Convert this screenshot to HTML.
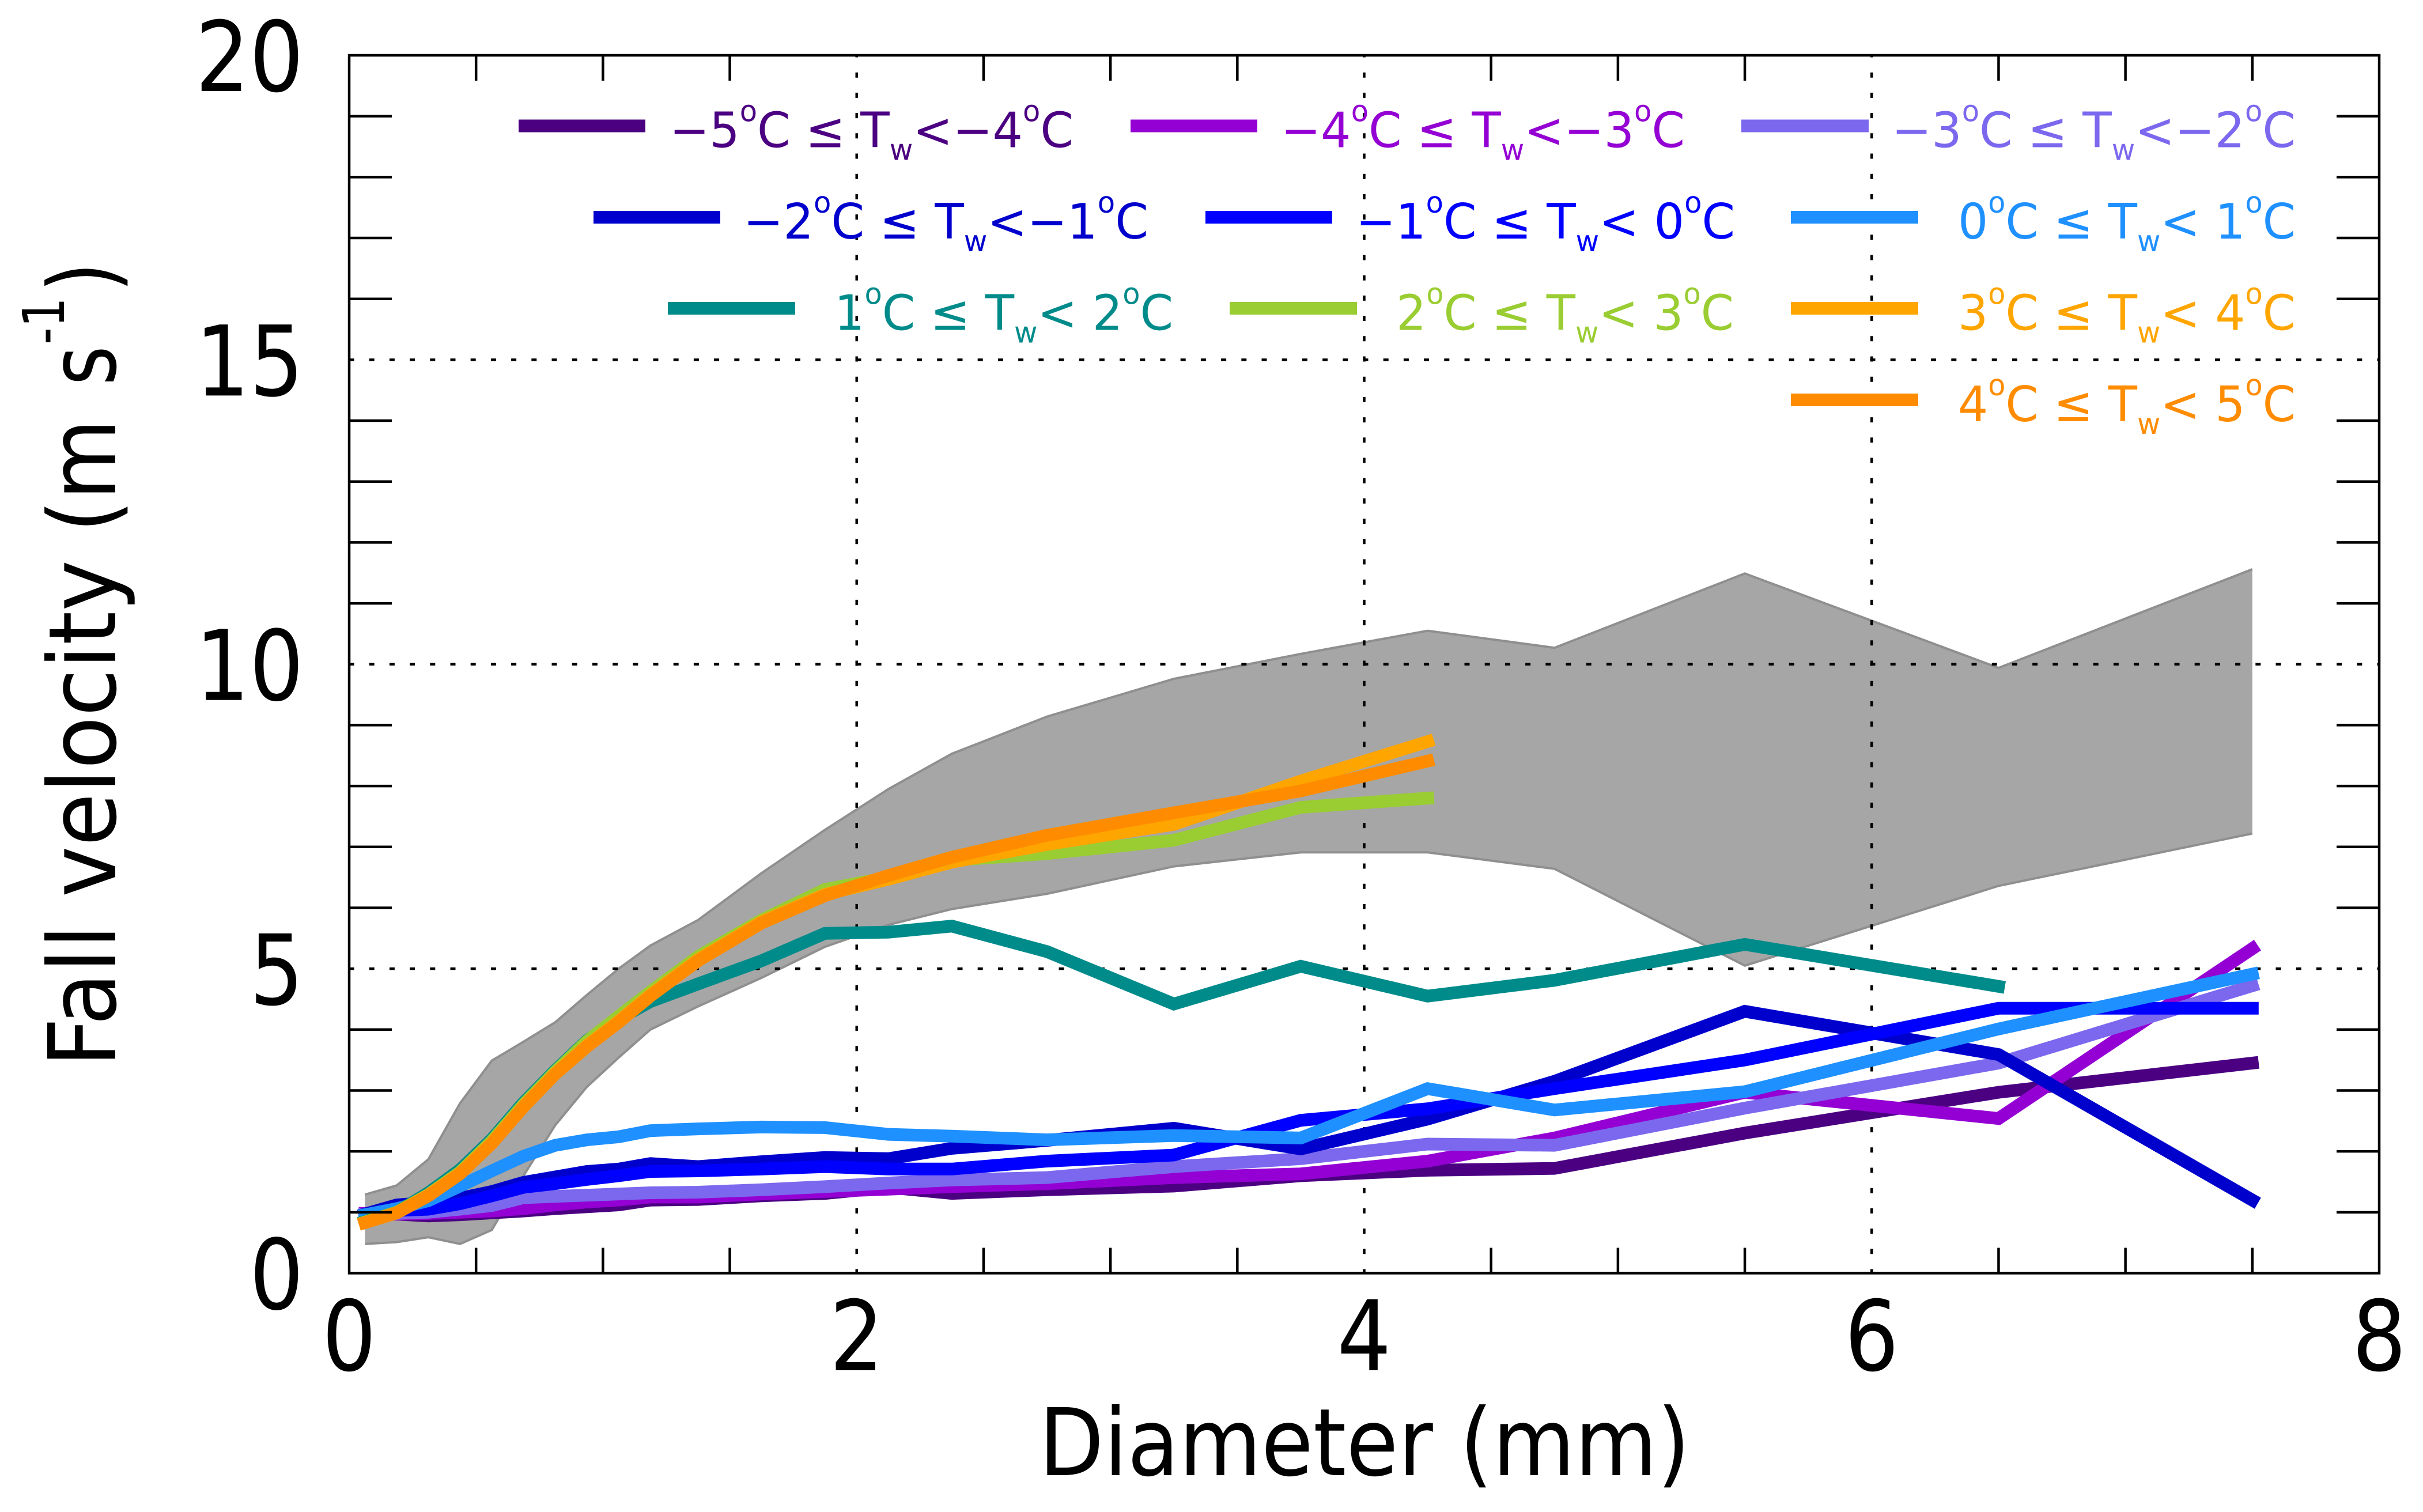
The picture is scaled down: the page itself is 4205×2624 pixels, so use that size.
<!DOCTYPE html>
<html lang="en">
<head>
<meta charset="utf-8">
<title>Fall velocity versus diameter</title>
<style>
html,body{margin:0;padding:0;background:#fff;}
svg{display:block;}
text{font-family:"DejaVu Sans","Liberation Sans",sans-serif;}
.leg{font-size:85px;}
.sm{font-size:51px;}
</style>
</head>
<body>
<svg id="chart" xmlns="http://www.w3.org/2000/svg" width="4205" height="2624" viewBox="0 0 4205 2624">
  <rect x="0" y="0" width="4205" height="2624" fill="#ffffff"/>
  <g id="band-layer"></g>
  <g id="grid-layer"></g>
  <g id="series-layer"></g>
  <g id="tick-layer"></g>
  <rect x="606" y="96" width="3523" height="2113.5" fill="none" stroke="#000" stroke-width="4.5"/>
  <g id="label-layer"></g>

  <text x="1803" y="2560" font-size="162" textLength="1130" lengthAdjust="spacingAndGlyphs">Diameter (mm)</text>
  <g transform="rotate(-90)">
    <text x="-1852" y="200" font-size="162" textLength="880" lengthAdjust="spacingAndGlyphs">Fall velocity</text>
    <text x="-924" y="200" font-size="162" textLength="197" lengthAdjust="spacingAndGlyphs">(m</text>
    <text x="-669" y="200" font-size="162" textLength="69" lengthAdjust="spacingAndGlyphs">s</text>
    <text x="-598" y="111" font-size="100" textLength="82" lengthAdjust="spacingAndGlyphs">-1</text>
    <text x="-507" y="200" font-size="162" textLength="52" lengthAdjust="spacingAndGlyphs">)</text>
  </g>

  <g>
    <line x1="900" x2="1120" y1="218.5" y2="218.5" stroke="#4B0082" stroke-width="22"/>
    <text class="leg" x="1162" y="255.5" fill="#4B0082" textLength="701" lengthAdjust="spacingAndGlyphs">−5<tspan class="sm" dy="-45">o</tspan><tspan dy="45">C ≤ T</tspan><tspan class="sm" dy="22">w</tspan><tspan dy="-22">&lt;−4</tspan><tspan class="sm" dy="-45">o</tspan><tspan dy="45">C</tspan></text>
    <line x1="1962" x2="2182" y1="218.5" y2="218.5" stroke="#9400D3" stroke-width="22"/>
    <text class="leg" x="2223" y="255.5" fill="#9400D3" textLength="701" lengthAdjust="spacingAndGlyphs">−4<tspan class="sm" dy="-45">o</tspan><tspan dy="45">C ≤ T</tspan><tspan class="sm" dy="22">w</tspan><tspan dy="-22">&lt;−3</tspan><tspan class="sm" dy="-45">o</tspan><tspan dy="45">C</tspan></text>
    <line x1="3022" x2="3243" y1="218.5" y2="218.5" stroke="#7B68EE" stroke-width="22"/>
    <text class="leg" x="3283" y="255.5" fill="#7B68EE" textLength="701" lengthAdjust="spacingAndGlyphs">−3<tspan class="sm" dy="-45">o</tspan><tspan dy="45">C ≤ T</tspan><tspan class="sm" dy="22">w</tspan><tspan dy="-22">&lt;−2</tspan><tspan class="sm" dy="-45">o</tspan><tspan dy="45">C</tspan></text>

    <line x1="1030" x2="1250" y1="377" y2="377" stroke="#0000CD" stroke-width="22"/>
    <text class="leg" x="1290" y="414" fill="#0000CD" textLength="703" lengthAdjust="spacingAndGlyphs">−2<tspan class="sm" dy="-45">o</tspan><tspan dy="45">C ≤ T</tspan><tspan class="sm" dy="22">w</tspan><tspan dy="-22">&lt;−1</tspan><tspan class="sm" dy="-45">o</tspan><tspan dy="45">C</tspan></text>
    <line x1="2092" x2="2312" y1="377" y2="377" stroke="#0000FF" stroke-width="22"/>
    <text class="leg" x="2353" y="414" fill="#0000FF" textLength="658" lengthAdjust="spacingAndGlyphs">−1<tspan class="sm" dy="-45">o</tspan><tspan dy="45">C ≤ T</tspan><tspan class="sm" dy="22">w</tspan><tspan dy="-22">&lt; 0</tspan><tspan class="sm" dy="-45">o</tspan><tspan dy="45">C</tspan></text>
    <line x1="3108" x2="3329" y1="377" y2="377" stroke="#1E90FF" stroke-width="22"/>
    <text class="leg" x="3398" y="414" fill="#1E90FF" textLength="586" lengthAdjust="spacingAndGlyphs">0<tspan class="sm" dy="-45">o</tspan><tspan dy="45">C ≤ T</tspan><tspan class="sm" dy="22">w</tspan><tspan dy="-22">&lt; 1</tspan><tspan class="sm" dy="-45">o</tspan><tspan dy="45">C</tspan></text>

    <line x1="1159" x2="1380" y1="535" y2="535" stroke="#008B8B" stroke-width="22"/>
    <text class="leg" x="1448" y="572.5" fill="#008B8B" textLength="588" lengthAdjust="spacingAndGlyphs">1<tspan class="sm" dy="-45">o</tspan><tspan dy="45">C ≤ T</tspan><tspan class="sm" dy="22">w</tspan><tspan dy="-22">&lt; 2</tspan><tspan class="sm" dy="-45">o</tspan><tspan dy="45">C</tspan></text>
    <line x1="2134" x2="2355" y1="535" y2="535" stroke="#9ACD32" stroke-width="22"/>
    <text class="leg" x="2423" y="572.5" fill="#9ACD32" textLength="586" lengthAdjust="spacingAndGlyphs">2<tspan class="sm" dy="-45">o</tspan><tspan dy="45">C ≤ T</tspan><tspan class="sm" dy="22">w</tspan><tspan dy="-22">&lt; 3</tspan><tspan class="sm" dy="-45">o</tspan><tspan dy="45">C</tspan></text>
    <line x1="3108" x2="3329" y1="535" y2="535" stroke="#FFA500" stroke-width="22"/>
    <text class="leg" x="3398" y="572.5" fill="#FFA500" textLength="586" lengthAdjust="spacingAndGlyphs">3<tspan class="sm" dy="-45">o</tspan><tspan dy="45">C ≤ T</tspan><tspan class="sm" dy="22">w</tspan><tspan dy="-22">&lt; 4</tspan><tspan class="sm" dy="-45">o</tspan><tspan dy="45">C</tspan></text>

    <line x1="3108" x2="3329" y1="694" y2="694" stroke="#FF8C00" stroke-width="22"/>
    <text class="leg" x="3398" y="731" fill="#FF8C00" textLength="586" lengthAdjust="spacingAndGlyphs">4<tspan class="sm" dy="-45">o</tspan><tspan dy="45">C ≤ T</tspan><tspan class="sm" dy="22">w</tspan><tspan dy="-22">&lt; 5</tspan><tspan class="sm" dy="-45">o</tspan><tspan dy="45">C</tspan></text>
  </g>
</svg>
<script>
const diameters = [0.062,0.187,0.312,0.437,0.562,0.687,0.812,0.937,1.062,1.187,1.375,1.625,1.875,2.125,2.375,2.75,3.25,3.75,4.25,4.75,5.5,6.5,7.5];

const bandUpper = [1.29,1.44,1.87,2.79,3.49,3.80,4.12,4.57,5.00,5.38,5.80,6.57,7.28,7.95,8.53,9.14,9.76,10.17,10.55,10.27,11.49,9.94,11.56];
const bandLower = [0.48,0.51,0.59,0.48,0.71,1.60,2.43,3.06,3.54,4.00,4.38,4.85,5.36,5.72,5.98,6.23,6.68,6.91,6.91,6.64,5.05,6.36,7.22];

const seriesM5 = [0.96,0.97,0.94,0.96,0.99,1.02,1.06,1.09,1.12,1.20,1.21,1.27,1.31,1.41,1.31,1.37,1.43,1.60,1.69,1.72,2.30,2.97,3.45];
const seriesM4 = [0.98,0.97,0.98,1.00,1.02,1.06,1.12,1.17,1.20,1.25,1.25,1.30,1.34,1.38,1.42,1.47,1.57,1.63,1.84,2.22,2.97,2.54,5.33];
const seriesM3 = [0.97,0.98,1.00,1.05,1.11,1.24,1.26,1.28,1.30,1.32,1.33,1.37,1.42,1.48,1.53,1.57,1.75,1.88,2.12,2.10,2.71,3.45,4.72];
const seriesM2 = [0.97,1.12,1.16,1.23,1.34,1.49,1.58,1.67,1.71,1.80,1.75,1.83,1.90,1.88,2.05,2.18,2.38,2.04,2.53,3.15,4.30,3.59,1.20];
const seriesM1 = [0.96,1.03,1.05,1.14,1.27,1.41,1.47,1.54,1.60,1.67,1.68,1.71,1.75,1.71,1.71,1.84,1.94,2.51,2.70,3.03,3.50,4.35,4.35];
const seriesP0 = [0.96,1.06,1.19,1.43,1.68,1.92,2.10,2.19,2.24,2.34,2.37,2.40,2.39,2.28,2.25,2.19,2.26,2.22,3.03,2.68,2.98,4.01,4.91];
const seriesP1 = [0.85,1.00,1.32,1.70,2.20,2.80,3.33,3.82,4.17,4.46,4.75,5.13,5.58,5.60,5.70,5.28,4.42,5.04,4.55,4.81,5.40,4.71];
const seriesP2 = [0.84,1.00,1.29,1.66,2.17,2.77,3.31,3.81,4.22,4.62,5.20,5.80,6.30,6.50,6.78,6.89,7.11,7.65,7.80];
const seriesP3 = [0.83,0.99,1.28,1.64,2.14,2.74,3.28,3.74,4.14,4.57,5.15,5.77,6.22,6.47,6.75,7.04,7.37,8.08,8.73];
const seriesP4 = [0.83,0.99,1.27,1.63,2.13,2.73,3.27,3.72,4.12,4.55,5.13,5.75,6.20,6.53,6.83,7.19,7.56,7.92,8.41];

const seriesNames = ['series-m5','series-m4','series-m3','series-m2','series-m1','series-p0','series-p1','series-p2','series-p3','series-p4'];
const seriesColors = ['#4B0082','#9400D3','#7B68EE','#0000CD','#0000FF','#1E90FF','#008B8B','#9ACD32','#FFA500','#FF8C00'];
const allSeries = [seriesM5,seriesM4,seriesM3,seriesM2,seriesM1,seriesP0,seriesP1,seriesP2,seriesP3,seriesP4];

const xTickLabels = [0,2,4,6,8];
const yTickLabels = [0,5,10,15,20];
const xGridValues = [2,4,6];
const yGridValues = [5,10,15];
const xMinorTicks = [0.5,1,1.5,2.5,3,3.5,4.5,5,5.5,6.5,7,7.5];
const yMinorTicks = [1,2,3,4,6,7,8,9,11,12,13,14,16,17,18,19];

const NS = 'http://www.w3.org/2000/svg';
const PLOT_LEFT = 606, PLOT_RIGHT = 4129, PLOT_TOP = 96, PLOT_BOTTOM = 2209.5;
const X_MAX = 8, Y_MAX = 20;
function xAxis(v){ return PLOT_LEFT + (PLOT_RIGHT - PLOT_LEFT) * v / X_MAX; }
function yAxis(v){ return PLOT_BOTTOM - (PLOT_BOTTOM - PLOT_TOP) * v / Y_MAX; }
function pointsOf(values){ return values.map(function(v,i){ return xAxis(diameters[i]).toFixed(1) + ',' + yAxis(v).toFixed(1); }); }

const bandLayer = document.getElementById('band-layer');
const gridLayer = document.getElementById('grid-layer');
const seriesLayer = document.getElementById('series-layer');
const tickLayer = document.getElementById('tick-layer');
const labelLayer = document.getElementById('label-layer');

/* grey band */
const bandFill = document.createElementNS(NS,'polygon');


bandFill.setAttribute('points', pointsOf(bandUpper).concat(pointsOf(bandLower).reverse()).join(' '));
bandFill.setAttribute('fill', '#a6a6a6');
bandLayer.appendChild(bandFill);

[bandUpper, bandLower].forEach(function(values){
  const edge = document.createElementNS(NS,'polyline');
  
  
  edge.setAttribute('points', pointsOf(values).join(' '));
  edge.setAttribute('fill', 'none');
  edge.setAttribute('stroke', '#8f8f8f');
  edge.setAttribute('stroke-width', '4');
  bandLayer.appendChild(edge);
});

/* grid */
xGridValues.forEach(function(v){
  const g = document.createElementNS(NS,'line');
  
  
  g.setAttribute('x1', xAxis(v));
  g.setAttribute('x2', xAxis(v));
  g.setAttribute('y1', PLOT_BOTTOM + 2);
  g.setAttribute('y2', PLOT_TOP);
  g.setAttribute('stroke', '#000');
  g.setAttribute('stroke-width', '4.5');
  g.setAttribute('stroke-dasharray', '9 26.2');
  gridLayer.appendChild(g);
});
yGridValues.forEach(function(v){
  const g = document.createElementNS(NS,'line');
  
  
  g.setAttribute('x1', PLOT_LEFT - 0.5);
  g.setAttribute('x2', PLOT_RIGHT);
  g.setAttribute('y1', yAxis(v));
  g.setAttribute('y2', yAxis(v));
  g.setAttribute('stroke', '#000');
  g.setAttribute('stroke-width', '4.5');
  g.setAttribute('stroke-dasharray', '9 26.2');
  gridLayer.appendChild(g);
});

/* series */
allSeries.forEach(function(values, k){
  const line = document.createElementNS(NS,'polyline');
  
  
  line.setAttribute('points', pointsOf(values).join(' '));
  line.setAttribute('fill', 'none');
  line.setAttribute('stroke', seriesColors[k]);
  line.setAttribute('stroke-width', '22');
  line.setAttribute('stroke-linecap', 'square');
  line.setAttribute('stroke-linejoin', 'miter');
  seriesLayer.appendChild(line);
});

/* ticks */
xMinorTicks.forEach(function(v){
  [[PLOT_BOTTOM, PLOT_BOTTOM - 44],[PLOT_TOP, PLOT_TOP + 44]].forEach(function(span){
    const t = document.createElementNS(NS,'line');
    
    
    t.setAttribute('x1', xAxis(v));
    t.setAttribute('x2', xAxis(v));
    t.setAttribute('y1', span[0]);
    t.setAttribute('y2', span[1]);
    t.setAttribute('stroke', '#000');
    t.setAttribute('stroke-width', '4.5');
    tickLayer.appendChild(t);
  });
});
yMinorTicks.forEach(function(v){
  [[PLOT_LEFT, PLOT_LEFT + 74],[PLOT_RIGHT, PLOT_RIGHT - 74]].forEach(function(span){
    const t = document.createElementNS(NS,'line');
    
    
    t.setAttribute('x1', span[0]);
    t.setAttribute('x2', span[1]);
    t.setAttribute('y1', yAxis(v));
    t.setAttribute('y2', yAxis(v));
    t.setAttribute('stroke', '#000');
    t.setAttribute('stroke-width', '4.5');
    tickLayer.appendChild(t);
  });
});

/* tick labels */
xTickLabels.forEach(function(v){
  const t = document.createElementNS(NS,'text');
  
  
  t.setAttribute('x', xAxis(v) - 47);
  t.setAttribute('y', 2378);
  t.setAttribute('font-size', '169');
  t.setAttribute('textLength', '94');
  t.setAttribute('lengthAdjust', 'spacingAndGlyphs');
  t.textContent = String(v);
  labelLayer.appendChild(t);
});
yTickLabels.forEach(function(v){
  const s = String(v);
  const w = 94 * s.length;
  const t = document.createElementNS(NS,'text');
  
  
  t.setAttribute('x', 527 - w);
  t.setAttribute('y', yAxis(v) + 62);
  t.setAttribute('font-size', '169');
  t.setAttribute('textLength', String(w));
  t.setAttribute('lengthAdjust', 'spacingAndGlyphs');
  t.textContent = s;
  labelLayer.appendChild(t);
});
</script>
</body>
</html>
